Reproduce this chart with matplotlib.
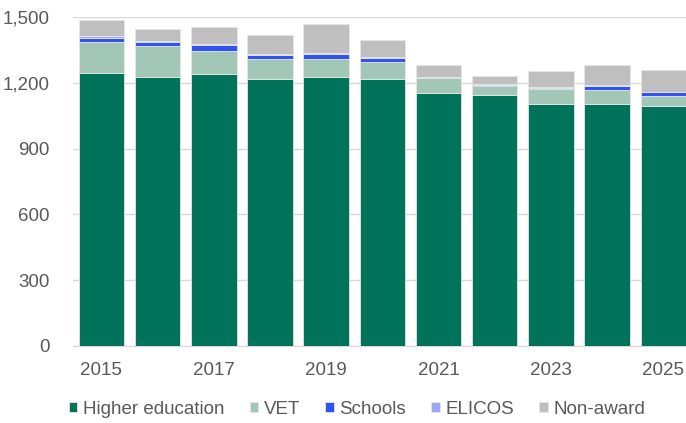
import matplotlib.pyplot as plt
import numpy as np

plt.rcParams['font.family'] = ['Liberation Sans', 'DejaVu Sans']

years = [2015, 2016, 2017, 2018, 2019, 2020, 2021, 2022, 2023, 2024, 2025]
higher_ed = [1247, 1227, 1241, 1220, 1227, 1220, 1154, 1145, 1106, 1106, 1094]
vet = [140, 141, 107, 88, 81, 75, 68, 43, 68, 62, 47]
schools = [20, 21, 26, 19, 26, 21, 1, 4, 4, 20, 19]
elicos = [6, 4, 2, 7, 3, 2, 3, 3, 3, 2, 1]
non_award = [75, 54, 79, 87, 131, 77, 55, 39, 73, 91, 99]

series = [
    ('Higher education', higher_ed, '#00735A'),
    ('VET', vet, '#A2C7B7'),
    ('Schools', schools, '#3352F5'),
    ('ELICOS', elicos, '#99A9F5'),
    ('Non-award', non_award, '#BFBFBF'),
]

text_col = '#595959'
fig = plt.figure(figsize=(6.86, 4.23), dpi=100)
# axes spans a little past the right edge, like the source image
ax = fig.add_axes([73.3 / 686, 1 - 345.7 / 423, (691.4 - 73.3) / 686, (345.7 - 17.3) / 423])

x = np.arange(len(years))
bottom = np.zeros(len(years))
for name, vals, col in series:
    ax.bar(x, vals, width=0.81, bottom=bottom, color=col, label=name,
           edgecolor='#E6E6E6', linewidth=0.6, zorder=3)
    bottom += np.array(vals)

ax.set_xlim(-0.5, len(years) - 0.5)
ax.set_ylim(0, 1500)
ax.set_yticks(range(0, 1501, 300))
ax.set_yticklabels([f'{v:,}' for v in range(0, 1501, 300)])
ax.set_xticks(x[::2])
ax.set_xticklabels([str(y) for y in years[::2]])
ax.grid(axis='y', color='#D9D9D9', linewidth=1, zorder=0)
for s in ['top', 'right', 'left']:
    ax.spines[s].set_visible(False)
ax.spines['bottom'].set_color('#D9D9D9')
ax.tick_params(axis='both', length=0, labelsize=13.5, colors=text_col)
ax.tick_params(axis='y', pad=17)
ax.tick_params(axis='x', pad=12)

fig.legend(loc='center', bbox_to_anchor=(357 / 686, 1 - 409 / 423), ncol=5,
           frameon=False, fontsize=13.5, labelcolor=text_col,
           handlelength=0.45, handleheight=0.45, handletextpad=0.3,
           columnspacing=1.35, borderaxespad=0)

fig.savefig('out.png', dpi=100)
